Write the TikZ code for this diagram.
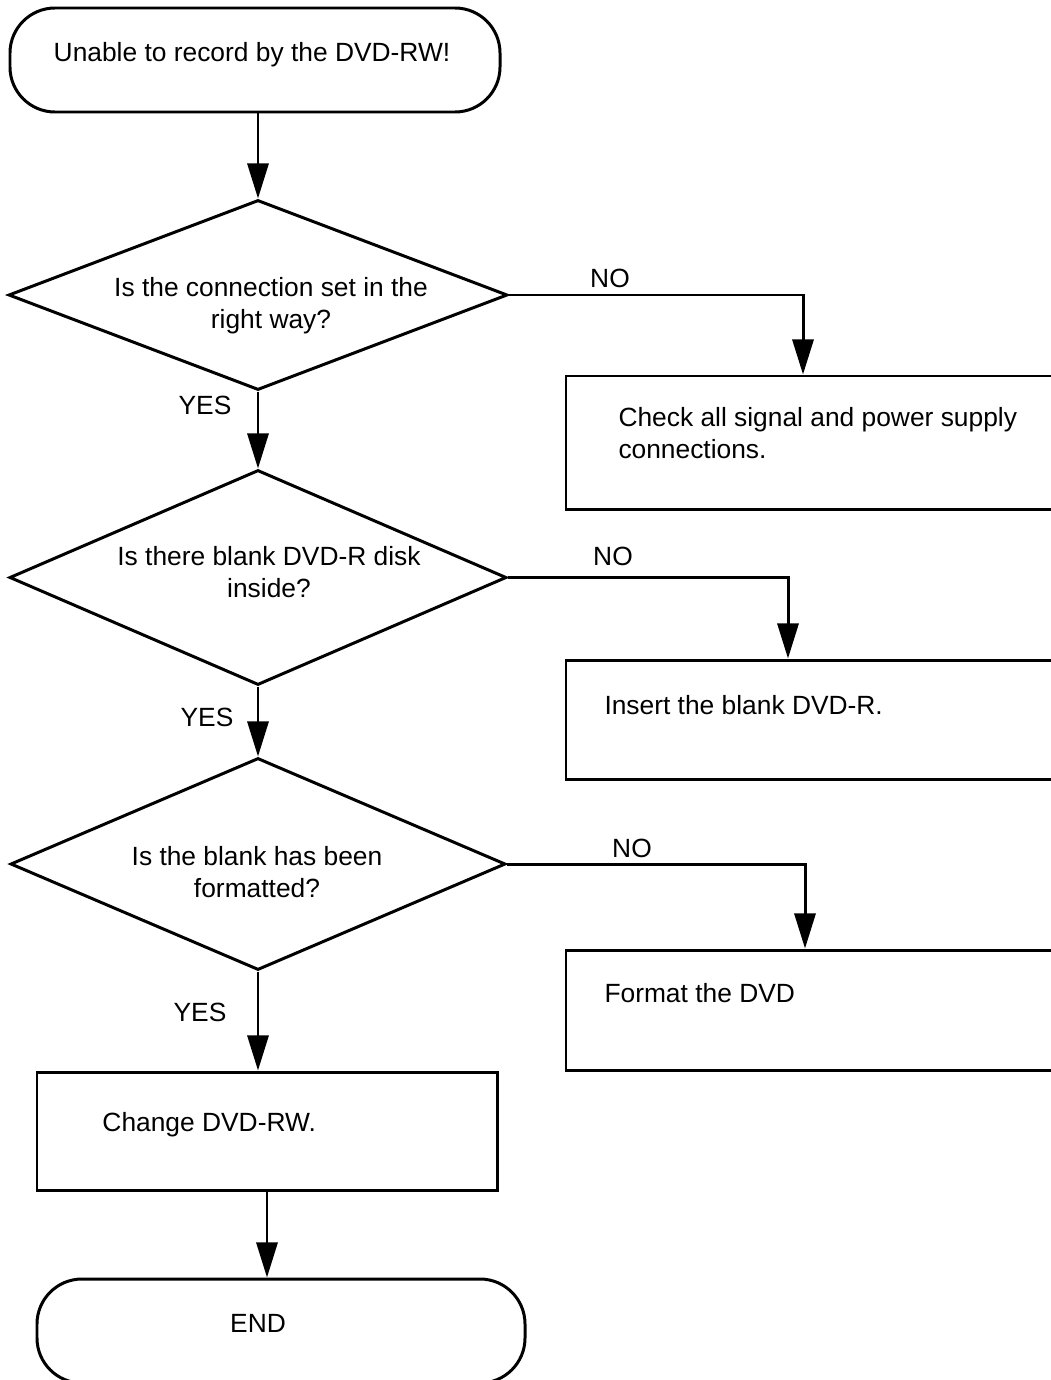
\documentclass[tikz,border=0pt]{standalone}
\usepackage{fontspec}
\setmainfont{Liberation Sans}
\usetikzlibrary{arrows.meta, positioning, shapes.geometric}

\tikzset{
  term/.style={draw, rounded corners=9mm, inner sep=0pt},
  decision/.style={draw, diamond, aspect=1, inner sep=0pt},
  action/.style={draw, rectangle, inner sep=0pt},
  txt/.style={align=center, inner sep=0pt},
  boxtxt/.style={anchor=west, align=left, inner sep=0pt},
}

\begin{document}
\begin{tikzpicture}[>={Triangle[length=20pt, width=12pt]}, line width=1.7pt,
    x=0.2mm, y=-0.2mm, font=\fontsize{15}{18.1}\selectfont]
  \useasboundingbox (0,0) rectangle (1051,1380);
  \clip (0,0) rectangle (1051,1380);

  % Start
  \node[term, minimum width=98mm, minimum height=20.8mm] (start) at (255,60) {};
  \node[txt] (tstart) at (252,55) {Unable to record by the DVD-RW!};

  % Questions
  \node[decision, minimum width=99.8mm, minimum height=38mm] (d1) at (258,295) {};
  \node[txt] (q1) at (271,306) {Is the connection set in the\\right way?};
  \node[decision, minimum width=99.4mm, minimum height=43mm] (d2) at (258,577.5) {};
  \node[txt] (q2) at (269,572) {Is there blank DVD-R disk\\inside?};
  \node[decision, minimum width=99mm, minimum height=42.4mm] (d3) at (258,864) {};
  \node[txt] (q3) at (257,872) {Is the blank has been\\formatted?};

  % Actions
  \node[action, minimum width=100.8mm, minimum height=26.6mm] (b1) at (818,442.5) {};
  \node[boxtxt] (a1) at (617,433) {Check all signal and power supply\\connections.};
  \node[action, minimum width=100.8mm, minimum height=23.8mm] (b2) at (818,719.5) {};
  \node[boxtxt] (a2) at (603,705) {Insert the blank DVD-R.};
  \node[action, minimum width=100.8mm, minimum height=24mm] (b3) at (818,1010) {};
  \node[boxtxt] (a3) at (603,993) {Format the DVD};
  \node[action, minimum width=92mm, minimum height=23.6mm] (b4) at (267,1131) {};
  \node[boxtxt] (a4) at (101,1125) {Change DVD-RW.};

  % End
  \node[term, minimum width=97.6mm, minimum height=20.8mm] (end) at (281,1331) {};
  \node[txt] (tend) at (258,1323) {END};

  % Labels
  \node[txt] (no1) at (610,278) {NO};
  \node[txt] (no2) at (613,556) {NO};
  \node[txt] (no3) at (632,848) {NO};
  \node[txt] (yes1) at (205,405) {YES};
  \node[txt] (yes2) at (207,717) {YES};
  \node[txt] (yes3) at (200,1012) {YES};

  % Connectors
  \draw[->] (start.south -| d1.north) -- (d1.north);
  \draw[->] (d1.south) -- (d2.north);
  \draw[->] (d2.south) -- (d3.north);
  \draw[->] (d3.south) -- (d3.south |- b4.north);
  \draw[->] (b4.south) -- (b4.south |- end.north);
  \draw[->] (d1.east) -| ([xshift=-3mm]b1.north);
  \draw[->] (d2.east) -| ([xshift=-6mm]b2.north);
  \draw[->] (d3.east) -| ([xshift=-2.6mm]b3.north);
\end{tikzpicture}
\end{document}
